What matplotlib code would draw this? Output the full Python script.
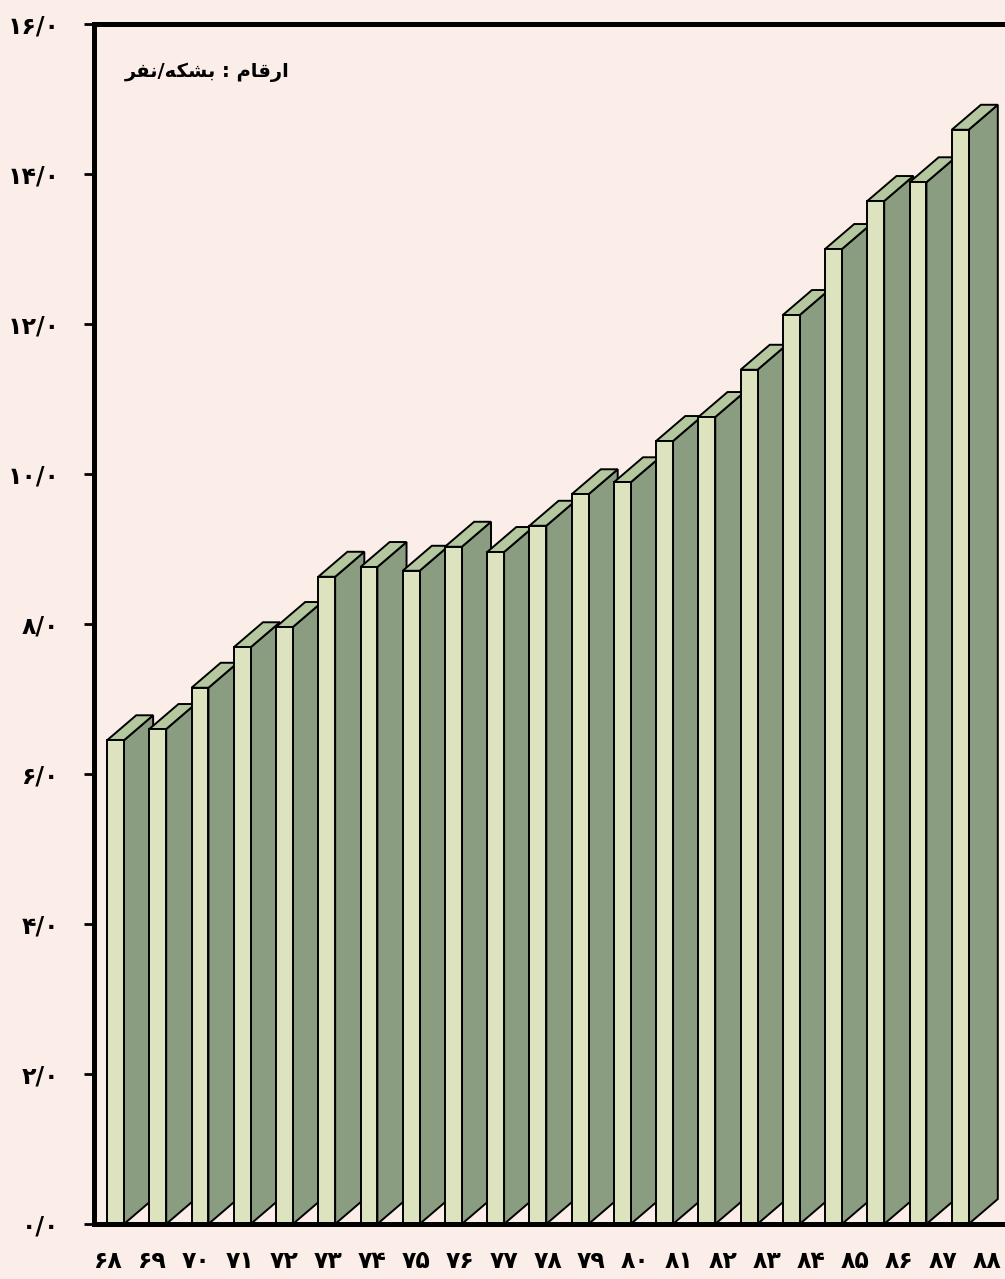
import numpy as np
import matplotlib
matplotlib.use("Agg")
import matplotlib.pyplot as plt
from matplotlib.patches import Polygon

# data: barrels per person, years 1368-1388 (shown as 68..88)
years = list(range(68, 89))
values = [6.45, 6.6, 7.15, 7.69, 7.96, 8.63, 8.76, 8.71, 9.03, 8.96, 9.31,
          9.73, 9.89, 10.44, 10.76, 11.39, 12.12, 13.0, 13.64, 13.89, 14.59]
yticks = list(range(0, 17, 2))

fa = str.maketrans("0123456789", "۰۱۲۳۴۵۶۷۸۹")

def to_fa(s):
    return s.translate(fa)

bg = "#fbede8"
front_c = "#dde2bf"
side_c = "#8a9d80"
top_c = "#b4c79e"

fig = plt.figure(figsize=(10.05, 12.79), dpi=100, facecolor=bg)
ax = fig.add_axes([94 / 1005, 55 / 1279, 1 - 94 / 1005, 1200 / 1279])
ax.set_facecolor(bg)

w = 0.40      # front width
dx = 0.69     # depth offset (x)
dy = 0.333    # depth offset (y)
for i, v in enumerate(values):
    x = i
    side = Polygon([(x + w, 0), (x + w + dx, dy), (x + w + dx, v + dy), (x + w, v)],
                   closed=True, fc=side_c, ec="black", lw=1.4, zorder=2)
    top = Polygon([(x, v), (x + w, v), (x + w + dx, v + dy), (x + dx, v + dy)],
                  closed=True, fc=top_c, ec="black", lw=1.4, zorder=2)
    front = Polygon([(x, 0), (x + w, 0), (x + w, v), (x, v)],
                    closed=True, fc=front_c, ec="black", lw=1.4, zorder=2)
    ax.add_patch(side)
    ax.add_patch(top)
    ax.add_patch(front)

ax.set_xlim(-0.31, 21.26)
ax.set_ylim(0, 16)

for s in ["left", "top", "bottom"]:
    ax.spines[s].set_linewidth(3.6)
    ax.spines[s].set_zorder(5)
ax.spines["right"].set_visible(False)

ax.set_yticks(yticks)
ax.set_yticklabels([to_fa(f"{t}/0") for t in yticks],
                   fontsize=17, fontweight="bold", family=["DejaVu Sans"])
ax.tick_params(axis="y", direction="out", length=7, width=2, pad=18)

n = len(years)
ax.set_xticks(np.arange(n) * 1.04 + 0.03)
ax.set_xticklabels([to_fa(str(y)) for y in years],
                   fontsize=17, fontweight="bold", family=["DejaVu Sans"])
ax.tick_params(axis="x", length=0, pad=18)

# "ارقام : بشکه / نفر" in presentation forms, visual order
unit = "\uFEAE\uFED4\uFEE7/\uFEEA\uFEDC\uFEB8\uFE91 : \uFEE1\uFE8E\uFED7\uFEAD\uFE8D"
ax.text(0.034, 0.96, unit, transform=ax.transAxes, ha="left", va="center",
        fontsize=14, fontweight="bold", family=["DejaVu Sans"])

fig.savefig("out.png", dpi=100, facecolor=bg)
